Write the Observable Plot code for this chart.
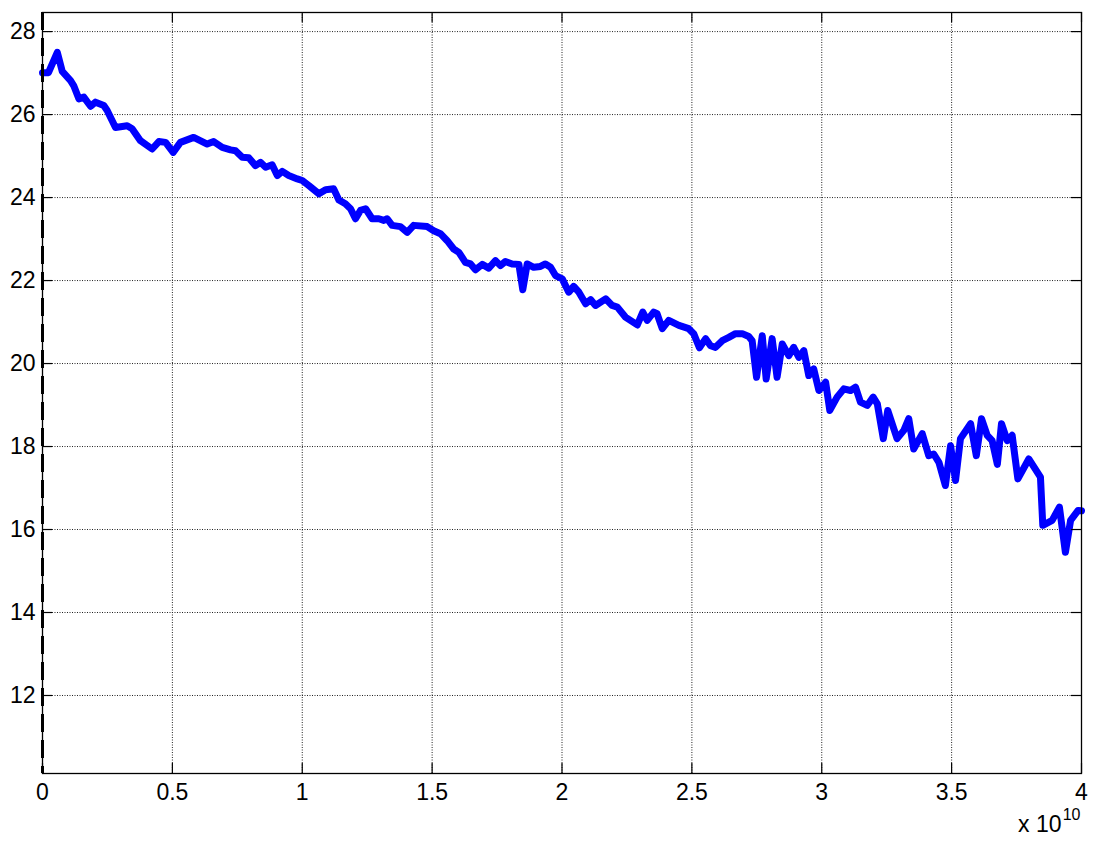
<!DOCTYPE html>
<html>
<head>
<meta charset="utf-8">
<script src="https://cdn.jsdelivr.net/npm/d3@7"></script>
<script src="https://cdn.jsdelivr.net/npm/@observablehq/plot@0.6"></script>
<style>
  html, body { margin: 0; padding: 0; background: #fff; }
</style>
</head>
<body>
<div id="chart"></div>
<script>
// x values in units of 10^10
const xs = [0,0.023,0.057,0.076,0.108,0.120,0.140,0.159,0.185,0.204,0.236,0.249,0.281,0.326,0.345,0.377,0.422,0.448,0.474,0.503,
0.531,0.582,0.634,0.659,0.692,0.724,0.743,0.769,0.794,0.820,0.839,0.859,0.884,0.904,0.923,0.948,0.981,1.000,1.025,1.064,
1.090,1.121,1.141,1.166,1.186,1.205,1.224,1.244,1.269,1.295,1.314,1.327,1.346,1.378,1.404,1.429,1.481,1.506,1.532,1.558,
1.583,1.603,1.628,1.648,1.667,1.693,1.718,1.744,1.763,1.782,1.808,1.834,1.849,1.866,1.891,1.917,1.936,1.956,1.975,2.001,
2.026,2.045,2.065,2.091,2.110,2.129,2.168,2.193,2.213,2.244,2.290,2.311,2.328,2.353,2.366,2.386,2.411,2.450,2.488,2.507,
2.529,2.553,2.572,2.591,2.617,2.642,2.668,2.694,2.719,2.732,2.749,2.771,2.786,2.809,2.828,2.848,2.873,2.892,2.912,2.931,
2.950,2.969,2.989,3.015,3.031,3.059,3.085,3.111,3.130,3.149,3.175,3.198,3.214,3.237,3.254,3.290,3.316,3.335,3.354,3.387,
3.412,3.431,3.451,3.476,3.496,3.515,3.534,3.573,3.595,3.615,3.637,3.656,3.676,3.692,3.714,3.733,3.755,3.797,3.842,3.851,
3.887,3.915,3.938,3.958,3.987,4.000];
const ys = [27.01,27.01,27.50,27.04,26.82,26.70,26.38,26.42,26.20,26.30,26.22,26.10,25.69,25.73,25.66,25.37,25.17,25.35,25.33,25.09,
25.33,25.45,25.29,25.35,25.21,25.15,25.13,24.97,24.96,24.77,24.85,24.73,24.79,24.53,24.63,24.53,24.45,24.41,24.29,24.09,
24.19,24.21,23.94,23.85,23.73,23.49,23.69,23.73,23.49,23.49,23.45,23.49,23.33,23.30,23.16,23.33,23.30,23.20,23.13,22.96,
22.76,22.68,22.44,22.40,22.26,22.39,22.30,22.48,22.36,22.46,22.40,22.39,21.78,22.40,22.32,22.34,22.40,22.32,22.12,22.04,
21.72,21.86,21.72,21.44,21.54,21.40,21.56,21.40,21.36,21.12,20.93,21.24,21.04,21.24,21.20,20.84,21.04,20.92,20.84,20.72,
20.38,20.60,20.43,20.39,20.55,20.63,20.72,20.72,20.65,20.55,19.67,20.67,19.63,20.60,19.67,20.47,20.19,20.39,20.15,20.31,
19.71,19.87,19.35,19.55,18.87,19.19,19.39,19.35,19.43,19.07,18.99,19.19,19.03,18.19,18.87,18.19,18.39,18.67,17.94,18.31,
17.78,17.82,17.62,17.06,18.02,17.18,18.19,18.55,17.78,18.67,18.27,18.14,17.57,18.55,18.14,18.27,17.22,17.70,17.26,16.10,
16.22,16.54,15.45,16.22,16.46,16.45];

const xTicks = [0,0.5,1,1.5,2,2.5,3,3.5,4];
const yTicks = [12,14,16,18,20,22,24,26,28];
const xDomain = [0,4];
const yDomain = [10.12,28.46];
const vLineX = [0];

const data = xs.map((x,i) => ({x, y: ys[i]}));

const font = "'Liberation Sans', Arial, Helvetica, sans-serif";
const gridStyle = {stroke: "#222", strokeOpacity: 1, strokeWidth: 1, strokeDasharray: "1,1.5"};

const chart = Plot.plot({
  width: 1095,
  height: 851,
  marginLeft: 42,
  marginRight: 14,
  marginTop: 12,
  marginBottom: 78,
  style: {fontFamily: font, fontSize: "22px", color: "#000", background: "#fff"},
  x: {domain: xDomain, axis: null},
  y: {domain: yDomain, axis: null},
  marks: [
    Plot.gridX(xTicks, gridStyle),
    Plot.gridY(yTicks, gridStyle),
    Plot.line(data, {x: "x", y: "y", stroke: "#0000ff", strokeWidth: 7, strokeLinejoin: "round", strokeLinecap: "round"}),
    // inward ticks (bottom, top, left, right)
    Plot.tickX(xTicks, {x: d => d, insetTop: 751, stroke: "#000", strokeWidth: 1.2}),
    Plot.tickX(xTicks, {x: d => d, insetBottom: 751, stroke: "#000", strokeWidth: 1.2}),
    Plot.tickY(yTicks, {y: d => d, insetRight: 1029, stroke: "#000", strokeWidth: 1.2}),
    Plot.tickY(yTicks, {y: d => d, insetLeft: 1029, stroke: "#000", strokeWidth: 1.2}),
    Plot.frame({stroke: "#000", strokeWidth: 1.3}),
    Plot.ruleX(vLineX, {x: d => d, stroke: "#000", strokeWidth: 3, strokeDasharray: "18,8"}),
    Plot.text(xTicks, {x: d => d, frameAnchor: "bottom", text: d => String(d), lineAnchor: "top", dy: 10, fontSize: 23, fill: "#000"}),
    Plot.text(yTicks, {y: d => d, frameAnchor: "left", text: d => String(d), textAnchor: "end", dx: -7, fontSize: 23, fill: "#000"}),
    Plot.text(["x 10"], {frameAnchor: "bottom-right", textAnchor: "end", dx: -20, dy: 58, fontSize: 23, fill: "#000"}),
    Plot.text(["10"], {frameAnchor: "bottom-right", textAnchor: "end", dx: -1, dy: 46, fontSize: 16, fill: "#000"})
  ]
});
document.getElementById("chart").appendChild(chart);
</script>
</body>
</html>
